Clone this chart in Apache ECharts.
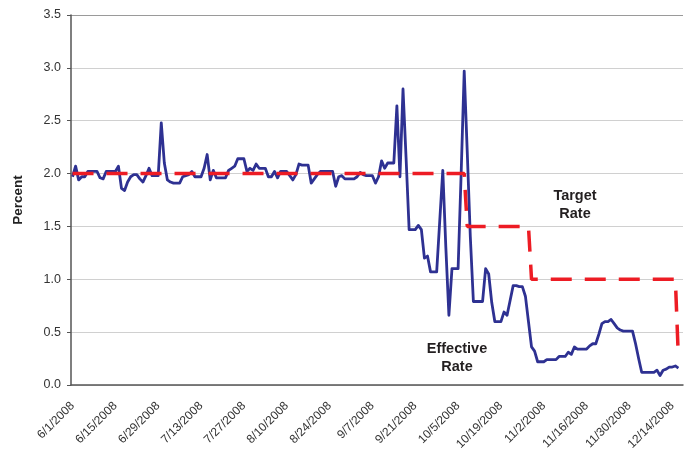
<!DOCTYPE html>
<html>
<head>
<meta charset="utf-8">
<script src="https://cdn.jsdelivr.net/npm/echarts@6/dist/echarts.min.js"></script>
<style>html,body{margin:0;padding:0;background:#fff}#c{width:684px;height:450px}</style>
</head>
<body>
<div id="c"></div>
<script>
// Daily categories: 6/1/2008 .. 12/17/2008
const firstDay = [2008, 5, 1];   // year, month index, day
const dayCount = 200;
const labelEvery = 14;

// Effective federal funds rate, one value per day from 6/1/2008 to 12/16/2008
const effectiveRate = [
  1.97, 2.07, 1.94, 1.97, 1.97, 2.02, 2.02, 2.02, 2.02, 1.96,   // 6/1 - 6/10
  1.95, 2.02, 2.02, 2.02, 2.02, 2.07, 1.86, 1.84, 1.92, 1.97,   // 6/11 - 6/20
  1.99, 1.99, 1.95, 1.92, 1.98, 2.05, 1.98, 1.98, 1.98, 2.48,   // 6/21 - 6/30
  2.10, 1.94, 1.92, 1.91, 1.91, 1.91, 1.97, 1.98, 1.99, 2.02,   // 7/1 - 7/10
  1.97, 1.97, 1.97, 2.05, 2.18, 1.94, 2.03, 1.96, 1.96, 1.96,   // 7/11 - 7/20
  1.96, 2.03, 2.05, 2.07, 2.14, 2.14, 2.14, 2.02, 2.05, 2.03,   // 7/21 - 7/30
  2.09, 2.05, 2.05, 2.05, 1.97, 1.97, 2.02, 1.96, 2.02, 2.02,   // 7/31 - 8/9
  2.02, 1.98, 1.94, 1.99, 2.09, 2.08, 2.08, 2.08, 1.91, 1.95,   // 8/10 - 8/19
  1.99, 2.02, 2.02, 2.02, 2.02, 2.02, 1.88, 1.97, 1.98, 1.95,   // 8/20 - 8/29
  1.95, 1.95, 1.95, 1.97, 2.01, 1.99, 1.98, 1.98, 1.98, 1.91,   // 8/30 - 9/8
  1.97, 2.12, 2.05, 2.10, 2.10, 2.10, 2.64, 1.97, 2.80, 2.15,   // 9/9 - 9/18
  1.47, 1.47, 1.47, 1.51, 1.47, 1.20, 1.22, 1.07, 1.07, 1.07,   // 9/19 - 9/28
  1.55, 2.03, 1.30, 0.66, 1.10, 1.10, 1.10, 2.00, 2.97, 2.20,   // 9/29 - 10/8
  1.40, 0.79, 0.79, 0.79, 0.79, 1.10, 1.05, 0.78, 0.60, 0.60,   // 10/9 - 10/18
  0.60, 0.69, 0.66, 0.80, 0.94, 0.94, 0.93, 0.93, 0.84, 0.60,   // 10/19 - 10/28
  0.36, 0.32, 0.22, 0.22, 0.22, 0.24, 0.24, 0.24, 0.24, 0.27,   // 10/29 - 11/7
  0.27, 0.27, 0.31, 0.29, 0.36, 0.34, 0.34, 0.34, 0.34, 0.37,   // 11/8 - 11/17
  0.39, 0.39, 0.48, 0.58, 0.60, 0.60, 0.62, 0.58, 0.54, 0.52,   // 11/18 - 11/27
  0.51, 0.51, 0.51, 0.51, 0.39, 0.25, 0.12, 0.12, 0.12, 0.12,   // 11/28 - 12/7
  0.12, 0.14, 0.09, 0.14, 0.15, 0.17, 0.17, 0.18, 0.16          // 12/8 - 12/16
];

// Target rate: change points
const targetDates  = ['6/1/2008', '10/7/2008', '10/8/2008', '10/28/2008', '10/29/2008', '12/15/2008', '12/16/2008'];
const targetValues = [2.0, 2.0, 1.5, 1.5, 1.0, 1.0, 0.25];

const yMin = 0, yMax = 3.5, yStep = 0.5;

const categories = [];
for (let i = 0; i < dayCount; i++) {
  const d = new Date(Date.UTC(firstDay[0], firstDay[1], firstDay[2] + i));
  categories.push((d.getUTCMonth() + 1) + '/' + d.getUTCDate() + '/' + d.getUTCFullYear());
}

const chart = echarts.init(document.getElementById('c'), null, {renderer: 'canvas'});
const font = '"Liberation Sans", Arial, sans-serif';
const gridColors = ['#d0d0d0','#d0d0d0','#d0d0d0','#d0d0d0','#d0d0d0','#d0d0d0','#d0d0d0','#9a9a9a'];

chart.setOption({
  animation: false,
  backgroundColor: '#fff',
  grid: {left: 71, right: 1, top: 15, bottom: 65, containLabel: false, outerBoundsMode: 'none'},
  xAxis: {
    type: 'category',
    data: categories,
    boundaryGap: true,
    axisLine: {lineStyle: {color: '#555', width: 1.5}},
    axisTick: {interval: labelEvery - 1, length: 5, lineStyle: {color: '#555', width: 1}},
    axisLabel: {interval: labelEvery - 1, rotate: 45, margin: 19, fontSize: 12, color: '#333', fontFamily: font},
    splitLine: {show: false}
  },
  yAxis: {
    type: 'value',
    min: yMin, max: yMax, interval: yStep,
    name: 'Percent',
    nameLocation: 'middle',
    nameGap: 46,
    nameTextStyle: {fontWeight: 'bold', fontSize: 13.5, color: '#222', fontFamily: font},
    axisLine: {show: true, lineStyle: {color: '#555', width: 1.5}},
    axisTick: {show: true, length: 4, lineStyle: {color: '#555'}},
    axisLabel: {formatter: v => v.toFixed(1), margin: 10, fontSize: 12.5, color: '#333', fontFamily: font},
    splitLine: {show: true, lineStyle: {color: gridColors, width: 1}}
  },
  series: [
    {
      name: 'Effective Rate',
      type: 'line',
      data: effectiveRate,
      symbol: 'none',
      smooth: false,
      lineStyle: {color: '#2e3192', width: 2.8, join: 'round'},
      z: 2
    },
    {
      name: 'Target Rate',
      type: 'line',
      data: targetDates.map((d, i) => [d, targetValues[i]]),
      symbol: 'none',
      smooth: false,
      lineStyle: {color: '#ed1c24', width: 3.5, type: [21, 13], cap: 'butt'},
      z: 3
    }
  ],
  graphic: [
    {type: 'text', z: 10, style: {text: 'Target\nRate', x: 575, y: 205, align: 'center', verticalAlign: 'middle',
      fontSize: 14.5, fontWeight: 'bold', fontFamily: font, fill: '#231f20', lineHeight: 18}},
    {type: 'text', z: 10, style: {text: 'Effective\nRate', x: 457, y: 358, align: 'center', verticalAlign: 'middle',
      fontSize: 14.5, fontWeight: 'bold', fontFamily: font, fill: '#231f20', lineHeight: 18.5}}
  ]
});
</script>
</body>
</html>
